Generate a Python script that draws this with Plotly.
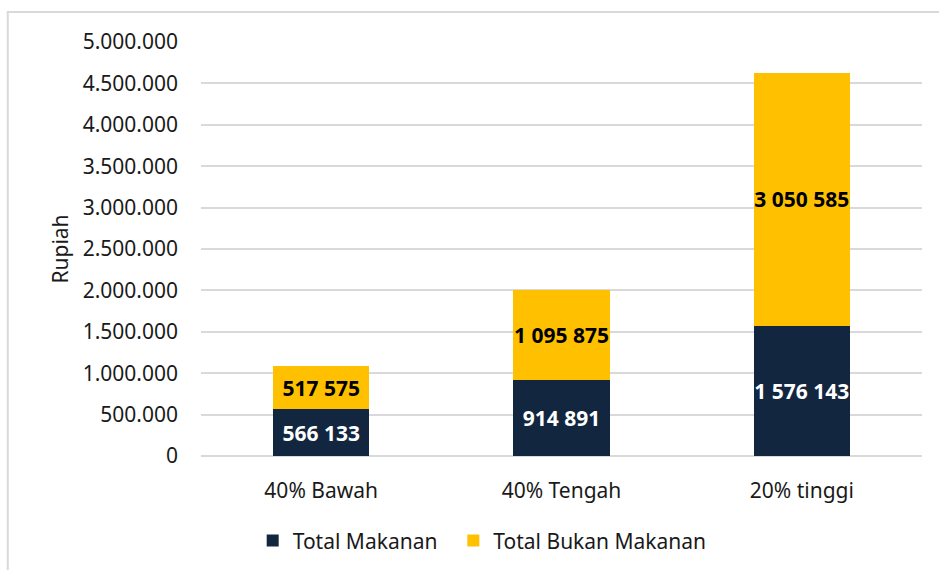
import plotly.graph_objects as go

categories = ["40% Bawah", "40% Tengah", "20% tinggi"]
makanan = [566133, 914891, 1576143]
bukan_makanan = [517575, 1095875, 3050585]
y_ticks = [0, 500000, 1000000, 1500000, 2000000, 2500000, 3000000, 3500000, 4000000, 4500000, 5000000]

NAVY = "#12263F"
GOLD = "#FFC000"
FONT = "Noto Sans"


def fmt_space(v):
    return f"{v:,}".replace(",", " ")


def fmt_dot(v):
    return f"{v:,}".replace(",", ".")


fig = go.Figure()

fig.add_trace(go.Bar(
    x=categories, y=makanan,
    name="Total Makanan  ",
    marker=dict(color=NAVY, line=dict(width=0)),
    text=[fmt_space(v) for v in makanan],
    textposition="inside",
    insidetextanchor="middle",
    textangle=0,
    constraintext="none",
    textfont=dict(family=FONT, size=21, color="white", weight="bold"),
))

fig.add_trace(go.Bar(
    x=categories, y=bukan_makanan,
    name="Total Bukan Makanan",
    marker=dict(color=GOLD, line=dict(width=0)),
    text=[fmt_space(v) for v in bukan_makanan],
    textposition="inside",
    insidetextanchor="middle",
    textangle=0,
    constraintext="none",
    textfont=dict(family=FONT, size=21, color="black", weight="bold"),
))

# chart frame (light grey box, cut off at right/bottom like the source)
fig.add_shape(
    type="rect", xref="paper", yref="paper",
    x0=-0.268, x1=1.2, y0=-0.5, y1=1.0725,
    line=dict(color="#D9D9D9", width=2),
    layer="above",
)

fig.update_layout(
    barmode="stack",
    bargap=0.6,
    width=939, height=570,
    margin=dict(l=201, r=17, t=42, b=114, autoexpand=False),
    paper_bgcolor="white",
    plot_bgcolor="white",
    font=dict(family=FONT, size=21, color="#1a1a1a"),
    showlegend=True,
    legend=dict(
        orientation="h",
        x=0.39, xanchor="center",
        y=-0.205, yanchor="middle",
        font=dict(size=21),
        itemwidth=30,
        traceorder="normal",
    ),
    xaxis=dict(
        showline=False,
        ticks="",
        tickfont=dict(size=21),
        ticklabelstandoff=20,
        automargin=False,
    ),
    yaxis=dict(
        title=dict(text="Rupiah", font=dict(size=21), standoff=8),
        range=[0, 5000000],
        tickvals=y_ticks,
        ticktext=[fmt_dot(v) for v in y_ticks],
        tickfont=dict(size=21),
        showgrid=True,
        gridcolor="#D9D9D9",
        gridwidth=1.5,
        zeroline=True,
        zerolinecolor="#D9D9D9",
        zerolinewidth=1.5,
        ticks="",
        ticklabelstandoff=22,
        automargin=False,
    ),
)

fig.write_html(
    "out.html",
    config={"displayModeBar": False},
    post_script="document.body.style.margin='0';",
)
